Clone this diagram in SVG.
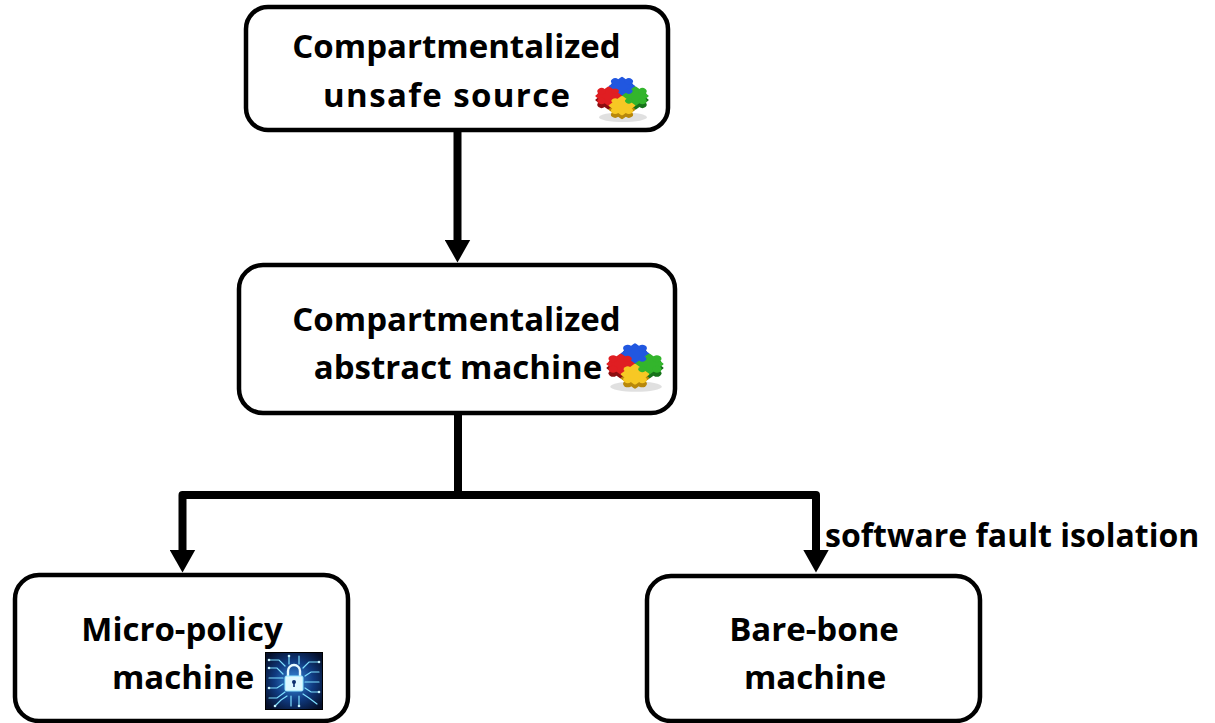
<svg xmlns="http://www.w3.org/2000/svg" width="1215" height="723" viewBox="0 0 1215 723">
  <style>
    .box { fill: #ffffff; stroke: #000000; stroke-width: 4.5; }
    .lbl { font-family: "Open Sans", "Liberation Sans", sans-serif; font-weight: bold; font-size: 33px; fill: #000000; text-anchor: middle; }
    .edge { fill: none; stroke: #000000; stroke-width: 8; stroke-linejoin: round; }
    .note { font-family: "Open Sans", "Liberation Sans", sans-serif; font-weight: bold; font-size: 32px; fill: #000000; }
    /* puzzle colours come in through custom properties so one layer serves for both faces */
    .cb { fill: var(--cb); } .cg { fill: var(--cg); } .cr { fill: var(--cr); } .cy { fill: var(--cy); }
    .pz-side { --cb: #0c2a86; --cg: #16721a; --cr: #8c0d10; --cy: #b8870a; }
    .pz-top { --cb: #2157e0; --cg: #33b52c; --cr: #e01e22; --cy: #f7c824; }
  </style>
  <defs>
    <!-- solid triangular head; its base sits at the end of the line -->
    <marker id="head" viewBox="0 0 23 26" refX="0.5" refY="13" markerWidth="23" markerHeight="26" markerUnits="userSpaceOnUse" orient="auto">
      <path d="M0,0 L23,13 L0,26 Z" fill="#000000"/>
    </marker>
    <radialGradient id="glow" cx="0.5" cy="0.5" r="0.62">
      <stop offset="0" stop-color="#3a8fe0"/>
      <stop offset="0.55" stop-color="#0f3a80"/>
      <stop offset="1" stop-color="#06102a"/>
    </radialGradient>

    <!-- one layer of the assembled 2x2 puzzle on a 40x40 grid -->
    <g id="pz-layer">
      <g class="cb"><rect x="0" y="0" width="20.5" height="20.5" rx="1.5"/><circle cx="10" cy="0" r="4.5"/><circle cx="0" cy="10" r="4.5"/></g>
      <g class="cg"><rect x="19.5" y="0" width="20.5" height="20.5" rx="1.5"/><circle cx="30" cy="0" r="4.5"/><circle cx="40" cy="10" r="4.5"/></g>
      <g class="cr"><rect x="0" y="19.5" width="20.5" height="20.5" rx="1.5"/><circle cx="0" cy="30" r="4.5"/><circle cx="10" cy="40" r="4.5"/></g>
      <g class="cy"><rect x="19.5" y="19.5" width="20.5" height="20.5" rx="1.5"/><circle cx="40" cy="30" r="4.5"/><circle cx="30" cy="40" r="4.5"/></g>
      <circle class="cb" cx="20" cy="10" r="3.8"/>
      <circle class="cg" cx="30" cy="20" r="3.8"/>
      <circle class="cy" cx="20" cy="30" r="3.8"/>
      <circle class="cr" cx="10" cy="20" r="3.8"/>
    </g>
    <symbol id="puzzle" viewBox="0 0 64 54">
      <ellipse cx="33" cy="47" rx="25" ry="5" fill="#000000" opacity="0.12"/>
      <g class="pz-side" transform="translate(32,29) scale(1,0.72) rotate(45) translate(-20,-20)">
        <use href="#pz-layer"/>
      </g>
      <g class="pz-top" transform="translate(32,25) scale(1,0.72) rotate(45) translate(-20,-20)">
        <use href="#pz-layer"/>
      </g>
    </symbol>

    <!-- padlock on a circuit board -->
    <symbol id="lockchip" viewBox="0 0 58 58">
      <rect x="0" y="0" width="58" height="58" fill="url(#glow)" stroke="#000000" stroke-width="2"/>
      <g fill="none" stroke="#7fe0ff" stroke-width="1.2" stroke-linecap="round">
        <path d="M4,8 L14,8 L20,14"/>
        <path d="M4,16 L12,16 L18,22"/>
        <path d="M4,26 L18,26"/>
        <path d="M4,36 L12,36 L18,32"/>
        <path d="M4,46 L12,46 L20,40"/>
        <path d="M10,54 L16,48 L22,44"/>
        <path d="M54,10 L44,10 L38,16"/>
        <path d="M54,20 L46,20 L40,24"/>
        <path d="M54,30 L40,30"/>
        <path d="M54,40 L46,40 L40,36"/>
        <path d="M52,52 L44,46 L38,42"/>
        <path d="M24,4 L24,12"/>
        <path d="M34,4 L34,12"/>
        <path d="M26,54 L26,44"/>
        <path d="M34,54 L34,44"/>
      </g>
      <g fill="#c8f4ff">
        <circle cx="4" cy="8" r="1.3"/><circle cx="4" cy="16" r="1.3"/><circle cx="4" cy="36" r="1.3"/>
        <circle cx="54" cy="10" r="1.3"/><circle cx="54" cy="40" r="1.3"/><circle cx="24" cy="4" r="1.3"/>
        <circle cx="34" cy="54" r="1.3"/><circle cx="10" cy="54" r="1.3"/>
      </g>
      <path d="M23,25 L23,19 A6,6 0 0 1 35,19 L35,25" fill="none" stroke="#e8fbff" stroke-width="2.4"/>
      <rect x="20" y="24" width="18" height="15" rx="1.5" fill="#dff8ff" stroke="#8fe6ff" stroke-width="1"/>
      <circle cx="29" cy="30" r="2" fill="#0d2f6e"/>
      <rect x="28.2" y="30" width="1.6" height="5" fill="#0d2f6e"/>
    </symbol>
  </defs>

  <g id="connectors">
    <line class="edge" x1="457.5" y1="130" x2="457.5" y2="240" marker-end="url(#head)"/>
    <path class="edge" d="M458,413 V495 H182.5 V550" marker-end="url(#head)"/>
    <path class="edge" d="M458,495 H816 V550" marker-end="url(#head)"/>
    <text class="note" x="825" y="547">software fault isolation</text>
  </g>

  <g id="node-unsafe-source">
    <rect class="box" x="246" y="7" width="422" height="123" rx="22"/>
    <text class="lbl" x="456.5" y="58">Compartmentalized</text>
    <text class="lbl" x="446.5" y="107" textLength="247">unsafe source</text>
    <use href="#puzzle" x="591" y="72" width="62" height="52"/>
  </g>

  <g id="node-abstract-machine">
    <rect class="box" x="239" y="265" width="436" height="148" rx="24"/>
    <text class="lbl" x="456.5" y="331">Compartmentalized</text>
    <text class="lbl" x="458" y="379">abstract machine</text>
    <use href="#puzzle" x="602" y="338" width="66" height="56"/>
  </g>

  <g id="node-micro-policy">
    <rect class="box" x="15" y="575" width="333" height="146" rx="24"/>
    <text class="lbl" x="182" y="641">Micro-policy</text>
    <text class="lbl" x="183" y="689">machine</text>
    <use href="#lockchip" x="265" y="652" width="58" height="58"/>
  </g>

  <g id="node-bare-bone">
    <rect class="box" x="647" y="576" width="333" height="145" rx="24"/>
    <text class="lbl" x="814" y="641">Bare-bone</text>
    <text class="lbl" x="815" y="689">machine</text>
  </g>
</svg>
